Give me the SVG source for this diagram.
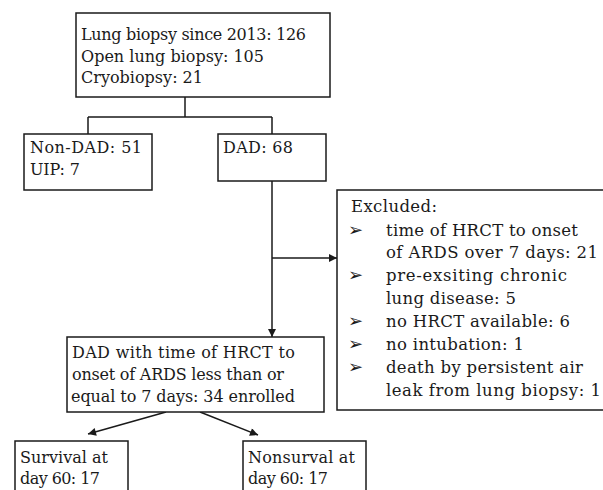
<svg xmlns="http://www.w3.org/2000/svg" width="603" height="490" viewBox="0 0 603 490">
<defs>
<style>
.box{fill:#fff;stroke:#1a1a1a;stroke-width:1.5}
.t{font-family:"DejaVu Serif","Liberation Serif",serif;font-size:16px;fill:#1a1a1a}
.x{font-size:16.5px}
.b{font-family:"DejaVu Sans",sans-serif;font-size:18px;fill:#1a1a1a}
.ln{fill:none;stroke:#1a1a1a;stroke-width:1.5}
</style>
<marker id="ah" viewBox="0 0 10 10" refX="10" refY="5" markerWidth="10" markerHeight="8" markerUnits="userSpaceOnUse" orient="auto">
<path d="M0,0 L10,5 L0,10 z" fill="#1a1a1a"/>
</marker>
</defs>
<rect width="603" height="490" fill="#fff"/>
<g id="connectors">
<path class="ln" d="M185,97 V117 M88,117 H272 M88,117 V134 M272,117 V134"/>
<path class="ln" d="M272,181 V337" marker-end="url(#ah)"/>
<path class="ln" d="M272,258 H337" marker-end="url(#ah)"/>
<path class="ln" d="M166,412 L88,434" marker-end="url(#ah)"/>
<path class="ln" d="M200,412 L258,435" marker-end="url(#ah)"/>
</g>
<g id="n-total">
<rect class="box" x="76" y="13" width="254" height="84"/>
<text class="t" x="81" y="40" textLength="225">Lung biopsy since 2013: 126</text>
<text class="t" x="81" y="62" textLength="183">Open lung biopsy: 105</text>
<text class="t" x="81" y="83" textLength="122">Cryobiopsy: 21</text>
</g>
<g id="n-nondad">
<rect class="box" x="24" y="134" width="128" height="56"/>
<text class="t" x="30" y="153" textLength="112">Non-DAD: 51</text>
<text class="t" x="30" y="175" textLength="50">UIP: 7</text>
</g>
<g id="n-dad">
<rect class="box" x="218" y="134" width="108" height="47"/>
<text class="t" x="223" y="153" textLength="70">DAD: 68</text>
</g>
<g id="n-excluded">
<rect class="box" x="337" y="190" width="280" height="220"/>
<text class="t x" x="351" y="212" textLength="86">Excluded:</text>
<text class="b" x="348" y="236">➢</text>
<text class="t x" x="386" y="236" textLength="192">time of HRCT to onset</text>
<text class="t x" x="386" y="258" textLength="212">of ARDS over 7 days: 21</text>
<text class="b" x="348" y="281">➢</text>
<text class="t x" x="386" y="281" textLength="181">pre-exsiting chronic</text>
<text class="t x" x="386" y="304" textLength="130">lung disease: 5</text>
<text class="b" x="348" y="327">➢</text>
<text class="t x" x="386" y="327" textLength="184">no HRCT available: 6</text>
<text class="b" x="348" y="350">➢</text>
<text class="t x" x="386" y="350" textLength="138">no intubation: 1</text>
<text class="b" x="348" y="373">➢</text>
<text class="t x" x="386" y="373" textLength="197">death by persistent air</text>
<text class="t x" x="386" y="396" textLength="215">leak from lung biopsy: 1</text>
</g>
<g id="n-enrolled">
<rect class="box" x="67" y="337" width="257" height="75"/>
<text class="t" x="72" y="358" textLength="223">DAD with time of HRCT to</text>
<text class="t" x="72" y="380" textLength="212">onset of ARDS less than or</text>
<text class="t" x="71" y="402" textLength="224">equal to 7 days: 34 enrolled</text>
</g>
<g id="n-survival">
<rect class="box" x="15" y="441" width="113" height="60"/>
<text class="t" x="20" y="463" textLength="88">Survival at</text>
<text class="t" x="20" y="484" textLength="80">day 60: 17</text>
</g>
<g id="n-nonsurvival">
<rect class="box" x="243" y="441" width="123" height="60"/>
<text class="t" x="248" y="463" textLength="107">Nonsurval at</text>
<text class="t" x="248" y="484" textLength="80">day 60: 17</text>
</g>
</svg>
